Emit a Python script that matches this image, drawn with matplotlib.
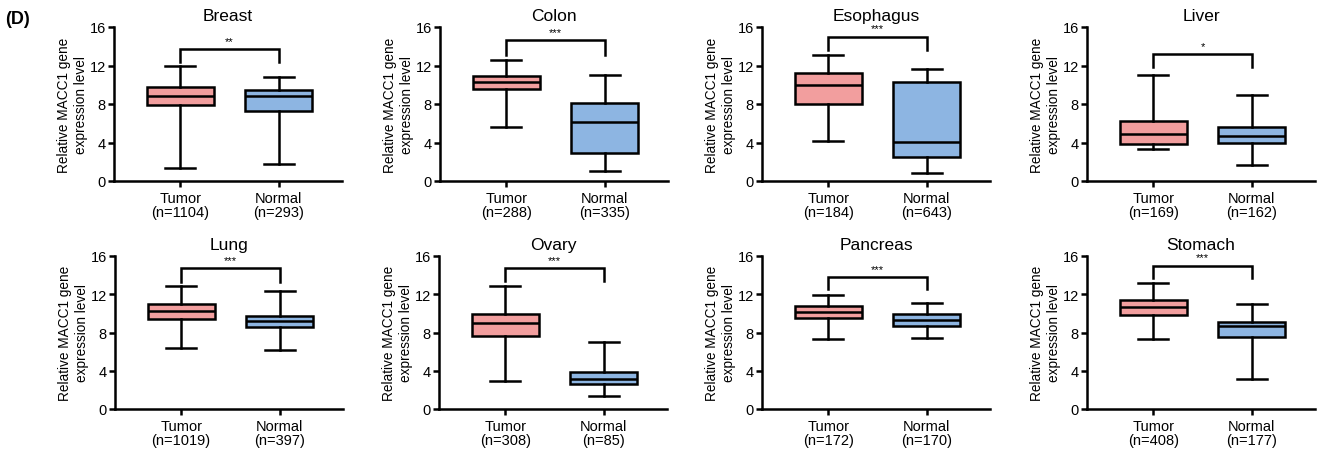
import matplotlib
matplotlib.use("Agg")
import matplotlib.pyplot as plt

plt.rcParams['font.family'] = ['Liberation Sans', 'DejaVu Sans']

tissues = ["Breast", "Colon", "Esophagus", "Liver", "Lung", "Ovary", "Pancreas", "Stomach"]
n_tumor = [1104, 288, 184, 169, 1019, 308, 172, 408]
n_normal = [293, 335, 643, 162, 397, 85, 170, 177]
signif = ["**", "***", "***", "*", "***", "***", "***", "***"]

# [whislo, q1, median, q3, whishi]
tumor_stats = [
    [1.3, 7.9, 8.87, 9.74, 11.9],
    [5.6, 9.54, 10.25, 10.96, 12.58],
    [4.17, 8.02, 9.98, 11.24, 13.06],
    [3.29, 3.88, 4.86, 6.26, 11.05],
    [6.37, 9.42, 10.29, 10.98, 12.88],
    [2.88, 7.67, 8.96, 9.97, 12.85],
    [7.27, 9.5, 10.1, 10.73, 11.95],
    [7.27, 9.8, 10.7, 11.37, 13.2],
]
normal_stats = [
    [1.74, 7.23, 8.8, 9.46, 10.85],
    [0.99, 2.86, 6.11, 8.13, 11.06],
    [0.88, 2.45, 4.03, 10.26, 11.62],
    [1.64, 3.99, 4.69, 5.66, 8.92],
    [6.2, 8.55, 9.25, 9.77, 12.33],
    [1.32, 2.6, 3.16, 3.89, 7.05],
    [7.41, 8.64, 9.3, 9.93, 11.12],
    [3.13, 7.51, 8.63, 9.08, 10.99],
]
# bracket height and leg end
bracket_top = [13.7, 14.6, 15.0, 13.2, 14.7, 14.75, 13.8, 15.0]
bracket_leg = [12.4, 13.1, 13.6, 11.8, 13.3, 13.4, 12.5, 13.7]

yticks = [0, 4, 8, 12, 16]
tumor_color = "#F29E9E"
normal_color = "#8DB5E2"

W, H = 1344, 460
fig = plt.figure(figsize=(W / 100, H / 100), dpi=100)

lefts_top = [114, 440, 762, 1087]
lefts_bot = [115, 439, 762, 1087]
ax_w = 228

lw = 1.8
for i, name in enumerate(tissues):
    row = i // 4
    col = i % 4
    if row == 0:
        left = lefts_top[col]; y16 = 28; y0 = 182
    else:
        left = lefts_bot[col]; y16 = 257; y0 = 410
    ax = fig.add_axes([left / W, 1 - y0 / H, ax_w / W, (y0 - y16) / H])
    stats = []
    for s, lab in ((tumor_stats[i], "Tumor"), (normal_stats[i], "Normal")):
        stats.append(dict(whislo=s[0], q1=s[1], med=s[2], q3=s[3], whishi=s[4], label=lab, fliers=[]))
    bp = ax.bxp(stats, positions=[1, 2], widths=0.68, patch_artist=True, showfliers=False,
                boxprops=dict(linewidth=lw, edgecolor="black"),
                medianprops=dict(color="black", linewidth=lw),
                whiskerprops=dict(color="black", linewidth=lw),
                capprops=dict(color="black", linewidth=lw),
                capwidths=0.31)
    bp['boxes'][0].set_facecolor(tumor_color)
    bp['boxes'][1].set_facecolor(normal_color)
    # bracket
    ax.plot([1, 1, 2, 2], [bracket_leg[i], bracket_top[i], bracket_top[i], bracket_leg[i]],
            color="black", linewidth=lw, solid_joinstyle="miter", clip_on=False)
    ax.text(1.5, bracket_top[i] + 0.35, signif[i], ha="center", va="bottom", fontsize=8)
    ax.set_xlim(0.33, 2.64)
    ax.set_ylim(0, 16)
    ax.set_yticks(yticks)
    ax.set_xticks([1, 2])
    ax.set_xticklabels([f"Tumor\n(n={n_tumor[i]})", f"Normal\n(n={n_normal[i]})"], fontsize=10.5,
                       linespacing=1.0)
    ax.tick_params(axis="y", labelsize=10.5, width=lw, length=4, pad=2)
    ax.tick_params(axis="x", width=lw, length=4, pad=3)
    for sp in ("top", "right"):
        ax.spines[sp].set_visible(False)
    for sp in ("left", "bottom"):
        ax.spines[sp].set_linewidth(lw)
    ax.set_title(name, fontsize=12.5, pad=5)
    ax.set_ylabel("Relative MACC1 gene\nexpression level", fontsize=9.8, linespacing=1.3, labelpad=1)

fig.text(5 / W, 1 - 20 / H, "(D)", fontsize=13, fontweight="bold", ha="left", va="center")

fig.savefig("out.png", dpi=100)
